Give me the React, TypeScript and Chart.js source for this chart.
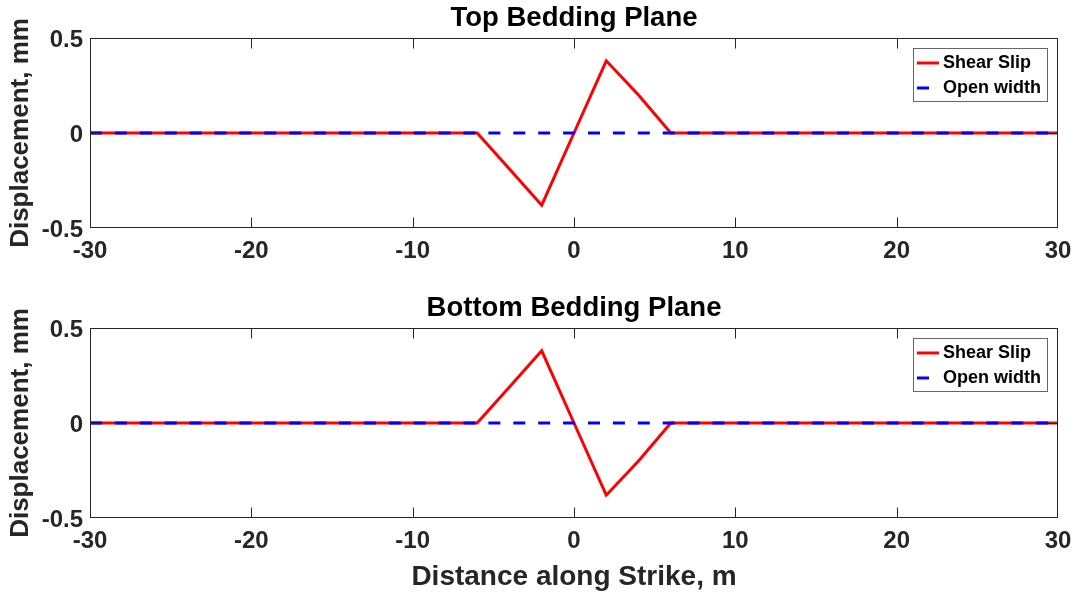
import React, { useEffect, useRef } from "react";
import { Chart, registerables } from "chart.js";

Chart.register(...registerables);

const FONT = "'Liberation Sans', Arial, Helvetica, sans-serif";

// Distance along strike (m)
const distance = [
  -30, -28, -26, -24, -22, -20, -18, -16, -14, -12, -10, -8, -6, -4, -2, 0,
  2, 4, 6, 8, 10, 12, 14, 16, 18, 20, 22, 24, 26, 28, 30,
];

// Top bedding plane
const topShearSlip = [
  0, 0, 0, 0, 0, 0, 0, 0, 0, 0, 0, 0, 0, -0.19, -0.38, 0,
  0.38, 0.2, 0, 0, 0, 0, 0, 0, 0, 0, 0, 0, 0, 0, 0,
];
const topOpenWidth = [
  0, 0, 0, 0, 0, 0, 0, 0, 0, 0, 0, 0, 0, 0, 0, 0,
  0, 0, 0, 0, 0, 0, 0, 0, 0, 0, 0, 0, 0, 0, 0,
];

// Bottom bedding plane
const bottomShearSlip = [
  0, 0, 0, 0, 0, 0, 0, 0, 0, 0, 0, 0, 0, 0.19, 0.38, 0,
  -0.38, -0.2, 0, 0, 0, 0, 0, 0, 0, 0, 0, 0, 0, 0, 0,
];
const bottomOpenWidth = [
  0, 0, 0, 0, 0, 0, 0, 0, 0, 0, 0, 0, 0, 0, 0, 0,
  0, 0, 0, 0, 0, 0, 0, 0, 0, 0, 0, 0, 0, 0, 0,
];

const seriesLabels = ["Shear Slip", "Open width"];
const xTicks = [-30, -20, -10, 0, 10, 20, 30];
const yTicks = [-0.5, 0, 0.5];

const framePlugin = {
  id: "matlabFrame",
  afterDatasetsDraw(chart: any) {
    const { ctx, chartArea: a } = chart;
    const xs = chart.scales.x;
    const ys = chart.scales.y;
    const L = Math.round(a.left) + 0.5;
    const R = Math.round(a.right) - 0.5;
    const T = Math.round(a.top) + 0.5;
    const B = Math.round(a.bottom) - 0.5;
    const tl = 10;
    ctx.save();
    ctx.strokeStyle = "#262626";
    ctx.lineWidth = 1;
    ctx.setLineDash([]);
    ctx.strokeRect(L, T, R - L, B - T);
    ctx.beginPath();
    xs.ticks.forEach((t: any) => {
      let px = Math.round(xs.getPixelForValue(t.value)) + 0.5;
      px = Math.min(Math.max(px, L), R);
      ctx.moveTo(px, B);
      ctx.lineTo(px, B - tl);
      ctx.moveTo(px, T);
      ctx.lineTo(px, T + tl);
    });
    ys.ticks.forEach((t: any) => {
      let py = Math.round(ys.getPixelForValue(t.value)) + 0.5;
      py = Math.min(Math.max(py, T), B);
      ctx.moveTo(L, py);
      ctx.lineTo(L + tl, py);
      ctx.moveTo(R, py);
      ctx.lineTo(R - tl, py);
    });
    ctx.stroke();
    ctx.restore();
  },
};

const legendPlugin = {
  id: "boxLegend",
  afterDraw(chart: any) {
    const { ctx, chartArea: a } = chart;
    const w = 134;
    const h = 53;
    const x0 = Math.round(a.right) - 11 - w;
    const y0 = Math.round(a.top) + 10;
    ctx.save();
    ctx.fillStyle = "#ffffff";
    ctx.fillRect(x0, y0, w, h);
    ctx.strokeStyle = "#666666";
    ctx.lineWidth = 1;
    ctx.strokeRect(x0 + 0.5, y0 + 0.5, w, h);
    chart.data.datasets.forEach((ds: any, i: number) => {
      const cy = y0 + 15 + i * 25;
      ctx.beginPath();
      ctx.setLineDash(ds.borderDash || []);
      ctx.strokeStyle = ds.borderColor;
      ctx.lineWidth = ds.borderWidth;
      ctx.moveTo(x0 + 4, cy);
      ctx.lineTo(x0 + 26, cy);
      ctx.stroke();
      ctx.setLineDash([]);
      ctx.fillStyle = "#000000";
      ctx.font = `bold 18px ${FONT}`;
      ctx.textBaseline = "middle";
      ctx.textAlign = "left";
      ctx.fillText(ds.label, x0 + 30, cy);
    });
    ctx.restore();
  },
};

function Panel(props: {
  title: string;
  shear: number[];
  open: number[];
  height: number;
  showXTitle: boolean;
}) {
  const ref = useRef<HTMLCanvasElement>(null);
  useEffect(() => {
    const xAxisHeight = props.height - 228;
    const chart = new Chart(ref.current as HTMLCanvasElement, {
      type: "line",
      data: {
        datasets: [
          {
            label: seriesLabels[0],
            data: distance.map((x, i) => ({ x, y: props.shear[i] })),
            borderColor: "#ff0000",
            borderWidth: 3,
            pointRadius: 0,
            tension: 0,
            order: 1,
          },
          {
            label: seriesLabels[1],
            data: distance.map((x, i) => ({ x, y: props.open[i] })),
            borderColor: "#0000ff",
            borderWidth: 3,
            borderDash: [12, 12.9],
            pointRadius: 0,
            tension: 0,
            order: 0,
          },
        ],
      },
      options: {
        animation: false,
        responsive: false,
        devicePixelRatio: 1,
        layout: { padding: { left: 0, right: 18, top: 0, bottom: 0 }, autoPadding: false },
        plugins: {
          legend: { display: false },
          tooltip: { enabled: false },
          title: {
            display: true,
            fullSize: false,
            text: props.title,
            color: "#000000",
            font: { family: FONT, size: 27.5, weight: "bold", lineHeight: 1.2 },
            padding: { top: 2, bottom: 3 },
          },
        },
        scales: {
          x: {
            type: "linear",
            min: -30,
            max: 30,
            afterBuildTicks: (s: any) => {
              s.ticks = xTicks.map((v) => ({ value: v }));
            },
            ticks: {
              color: "#262626",
              font: { family: FONT, size: 24, weight: "bold", lineHeight: 1.2 },
              padding: 8.5,
              maxRotation: 0,
              autoSkip: false,
              callback: (v: any) => String(v),
            },
            grid: { display: false, drawTicks: false },
            border: { display: false },
            title: {
              display: props.showXTitle,
              text: "Distance along Strike, m",
              color: "#262626",
              font: { family: FONT, size: 28, weight: "bold", lineHeight: 1.2 },
              padding: { top: 0, bottom: 2.2 },
            },
            afterFit: (s: any) => {
              s.height = xAxisHeight;
              s.paddingLeft = 0;
              s.paddingRight = 0;
            },
          },
          y: {
            type: "linear",
            min: -0.5,
            max: 0.5,
            afterBuildTicks: (s: any) => {
              s.ticks = yTicks.map((v) => ({ value: v }));
            },
            ticks: {
              color: "#262626",
              font: { family: FONT, size: 24, weight: "bold", lineHeight: 1.2 },
              padding: 7,
              labelOffset: 2,
              callback: (v: any) => String(Math.round(v * 10) / 10),
            },
            grid: { display: false, drawTicks: false },
            border: { display: false },
            title: {
              display: true,
              text: "Displacement, mm",
              color: "#262626",
              font: { family: FONT, size: 26, weight: "bold", lineHeight: 1.2 },
              padding: { top: 5, bottom: 0 },
            },
            afterFit: (s: any) => {
              s.width = 90;
              s.paddingTop = 0;
              s.paddingBottom = 0;
            },
          },
        },
      },
      plugins: [framePlugin, legendPlugin],
    } as any);
    return () => chart.destroy();
  }, []);
  return (
    <canvas
      ref={ref}
      width={1076}
      height={props.height}
      style={{ display: "block", width: 1076, height: props.height }}
    />
  );
}

export default function App() {
  return (
    <div
      style={{
        position: "fixed",
        left: 0,
        top: 0,
        width: 1076,
        height: 596,
        background: "#ffffff",
      }}
    >
      <Panel
        title="Top Bedding Plane"
        shear={topShearSlip}
        open={topOpenWidth}
        height={290}
        showXTitle={false}
      />
      <Panel
        title="Bottom Bedding Plane"
        shear={bottomShearSlip}
        open={bottomOpenWidth}
        height={306}
        showXTitle={true}
      />
    </div>
  );
}
